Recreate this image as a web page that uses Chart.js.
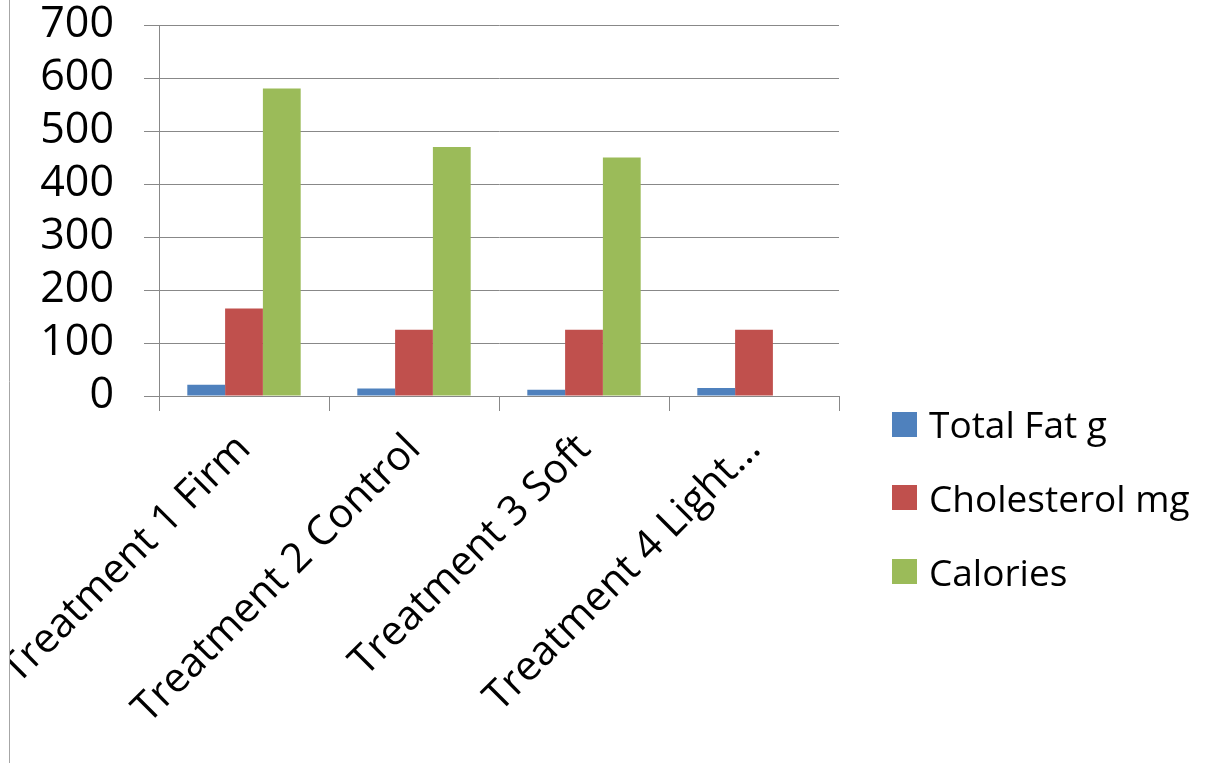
<!DOCTYPE html>
<html>
<head>
<meta charset="utf-8">
<script src="https://cdn.jsdelivr.net/npm/chart.js@4/dist/chart.umd.min.js"></script>
<style>
  html, body { margin: 0; padding: 0; background: #ffffff; }
  #wrap { position: relative; width: 1209px; height: 763px; overflow: hidden; }
  #chart { position: absolute; left: 0; top: 0; }
  #legend { position: absolute; left: 892px; top: 0; font-family: "Open Sans", sans-serif; font-size: 37px; color: #000; }
  .item { position: absolute; left: 0; white-space: nowrap; height: 50px; }
  .swatch { position: absolute; left: 0; width: 25px; height: 25px; }
  .label { position: absolute; left: 37px; line-height: 50px; top: 0; }
</style>
</head>
<body>
<div id="wrap">
  <canvas id="chart" width="1209" height="763"></canvas>
  <div id="legend"></div>
</div>
<script>
// Categories and series values
const categories = ["Treatment 1 Firm", "Treatment 2 Control", "Treatment 3 Soft", "Treatment 4 Light…"];
const seriesNames = ["Total Fat g", "Cholesterol mg", "Calories"];
const totalFat = [21, 14, 12, 15];
const cholesterol = [165, 125, 125, 125];
const calories = [580, 470, 450, null];
const yTicks = [0, 100, 200, 300, 400, 500, 600, 700];

const seriesColors = ["#4f81bd", "#c0504d", "#9bbb59"];
const seriesValues = [totalFat, cholesterol, calories];
const gridColor = "#888888";
const fontFamily = "'Open Sans', sans-serif";

// White strip and thin frame line at the left edge
const leftFrame = {
  id: "leftFrame",
  afterDraw(chart) {
    const ctx = chart.ctx;
    ctx.save();
    ctx.fillStyle = "#ffffff";
    ctx.fillRect(0, 0, 9, chart.height);
    ctx.strokeStyle = "#a6a6a6";
    ctx.lineWidth = 1;
    ctx.beginPath();
    ctx.moveTo(9.5, 0);
    ctx.lineTo(9.5, chart.height);
    ctx.stroke();
    ctx.restore();
  }
};

const chart = new Chart(document.getElementById("chart"), {
  type: "bar",
  data: {
    labels: categories,
    datasets: seriesNames.map((name, i) => ({
      label: name,
      data: seriesValues[i],
      backgroundColor: seriesColors[i],
      borderWidth: 0,
      categoryPercentage: 0.667,
      barPercentage: 1.0
    }))
  },
  options: {
    responsive: false,
    animation: false,
    events: [],
    layout: { padding: { left: 0, top: 25, right: 370, bottom: 0 } },
    plugins: {
      legend: { display: false },
      title: { display: false },
      tooltip: { enabled: false }
    },
    scales: {
      x: {
        grid: {
          offset: true,
          drawOnChartArea: false,
          color: gridColor,
          tickLength: 15,
          lineWidth: 1
        },
        border: { color: gridColor, width: 1 },
        ticks: {
          autoSkip: false,
          maxRotation: 45,
          minRotation: 45,
          padding: 14,
          color: "#000000",
          font: { family: fontFamily, size: 41 }
        },
        afterFit(scale) {
          scale.height = 367;
          scale.paddingLeft = 0;
          scale.paddingRight = 0;
        }
      },
      y: {
        min: 0,
        max: 700,
        afterBuildTicks(scale) {
          scale.ticks = yTicks.map(v => ({ value: v }));
        },
        grid: {
          color: gridColor,
          tickLength: 15,
          lineWidth: 1
        },
        border: { color: gridColor, width: 1 },
        ticks: {
          autoSkip: false,
          padding: 30,
          color: "#000000",
          font: { family: fontFamily, size: 43 }
        },
        afterFit(scale) {
          scale.width = 159;
          scale.paddingTop = 0;
          scale.paddingBottom = 0;
        }
      }
    }
  },
  plugins: [leftFrame]
});

// Legend built from the series names and colours
const legend = document.getElementById("legend");
const rowCenters = [424, 497.5, 571.5];
seriesNames.forEach((name, i) => {
  const item = document.createElement("div");
  item.className = "item";
  item.style.top = (rowCenters[i] - 25) + "px";
  const sw = document.createElement("div");
  sw.className = "swatch";
  sw.style.background = seriesColors[i];
  sw.style.top = "12.5px";
  const lb = document.createElement("div");
  lb.className = "label";
  lb.textContent = name;
  item.appendChild(sw);
  item.appendChild(lb);
  legend.appendChild(item);
});
</script>
</body>
</html>
